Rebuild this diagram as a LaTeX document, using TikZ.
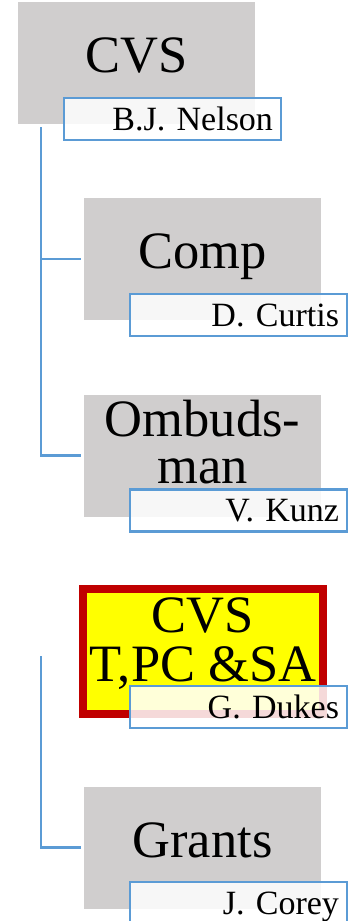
\documentclass[tikz,border=0pt]{standalone}
\usepackage{fontspec}
\setmainfont{Liberation Serif}
\definecolor{boxgray}{RGB}{208,206,206}
\definecolor{linkblue}{RGB}{91,155,213}
\definecolor{boxred}{RGB}{192,0,0}
\definecolor{boxyellow}{RGB}{255,255,0}
\tikzset{
  unit/.style={fill=boxgray, minimum width=237pt, minimum height=122pt, inner sep=0pt},
  head/.style={font=\fontsize{52.5}{47}\selectfont, align=center, anchor=base, inner sep=0pt},
  who/.style={draw=linkblue, line width=2.5pt, fill=white, fill opacity=0.85, text opacity=1,
    minimum height=42pt, text width=201pt, inner xsep=8pt, inner ysep=0pt, align=right,
    text height=22pt, text depth=0pt, font=\fontsize{34}{38}\selectfont},
  link/.style={draw=linkblue, line width=2.5pt}
}

\begin{document}
\begin{tikzpicture}[x=1pt,y=-1pt]
\useasboundingbox (0,0) rectangle (353,921);
\node[unit] (cvs) at (136.5,63) {};
\node[head] (cvstxt) at (136.5,72) {CVS};
\node[who] (nelson) at (172.5,119) {B.J. Nelson};
\node[unit] (comp) at (202.5,259) {};
\node[head] (comptxt) at (202.5,268) {Comp};
\node[who] (curtis) at (238.5,315) {D. Curtis};
\node[unit] (omb) at (202.5,455.5) {};
\node[head] (ombtxt) at (202.5,483) {Ombuds-\\man};
\node[who] (kunz) at (238.5,510.5) {V. Kunz};
\node[draw=boxred, line width=8pt, fill=boxyellow, minimum width=240pt, minimum height=125pt, inner sep=0pt] (tpc) at (203,651.5) {};
\node[head, font=\fontsize{52.5}{49}\selectfont] (tpctxt) at (203,681) {CVS\\T,PC \&SA};
\node[who] (dukes) at (238.5,707) {G. Dukes};
\node[unit] (grants) at (202.5,847.5) {};
\node[head] (grantstxt) at (202.5,857) {Grants};
\node[who] (corey) at (238.5,903) {J. Corey};
\coordinate (top1) at (41,127);
\draw[link] (top1) |- ([xshift=-3pt]omb.west);
\draw[link] (top1 |- comp.west) -- ([xshift=-3pt]comp.west);
\coordinate (top2) at (41,656);
\draw[link] (top2) |- ([xshift=-3pt]grants.west);
\end{tikzpicture}
\end{document}
